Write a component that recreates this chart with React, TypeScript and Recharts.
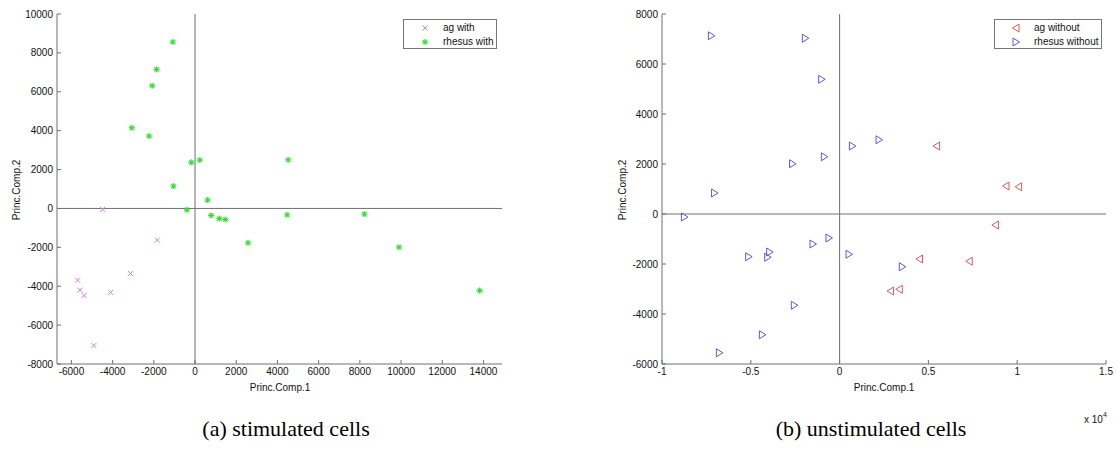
import { ScatterChart, Scatter, XAxis, YAxis, ReferenceLine } from "recharts";

// (a) stimulated cells
const agWithX = [-4490, -1830, -3130, -5700, -5590, -5380, -4100, -4910];
const agWithY = [-50, -1630, -3350, -3690, -4200, -4480, -4320, -7050];
const rhesusWithX = [
  -1080, -1870, -2080, -3070, -2230, -180, 230, -1050, 610, -400, 780, 1180, 1470, 2570, 4470,
  8220, 9900, 13810, 4520,
];
const rhesusWithY = [
  8560, 7150, 6310, 4150, 3720, 2370, 2490, 1150, 430, -70, -360, -520, -570, -1770, -330, -290,
  -1990, -4220, 2500,
];

// (b) unstimulated cells
const agWithoutX = [5460, 9370, 10080, 8770, 4500, 7300, 2870, 3360];
const agWithoutY = [2720, 1120, 1090, -440, -1800, -1890, -3080, -3010];
const rhesusWithoutX = [
  -7220, -1930, -1010, 720, -860, -2650, -7040, 2220, -8740, -1500, -600, 530, -5120, -3940, -4050,
  -2550, -4350, -6770, 3530,
];
const rhesusWithoutY = [
  7130, 7030, 5390, 2720, 2290, 2010, 840, 2970, -120, -1200, -960, -1610, -1710, -1520, -1730,
  -3650, -4830, -5550, -2110,
];

const leftXTicks = [-6000, -4000, -2000, 0, 2000, 4000, 6000, 8000, 10000, 12000, 14000];
const leftYTicks = [-8000, -6000, -4000, -2000, 0, 2000, 4000, 6000, 8000, 10000];
const rightXTicks = [-10000, -5000, 0, 5000, 10000, 15000];
const rightYTicks = [-6000, -4000, -2000, 0, 2000, 4000, 6000, 8000];

const pts = (xs: number[], ys: number[]) => xs.map((x, i) => ({ x, y: ys[i] }));

const AXIS = "#707070";
const PINK = "#d77ad9";
const GREEN = "#2fe02f";
const RED = "#dc5a5a";
const BLUE = "#5a5ad2";
const FONT = "'Liberation Sans', Arial, sans-serif";

function Cross({ cx, cy }: any) {
  const r = 2.5;
  return (
    <g stroke={PINK} strokeWidth={1}>
      <line x1={cx - r} y1={cy - r} x2={cx + r} y2={cy + r} />
      <line x1={cx - r} y1={cy + r} x2={cx + r} y2={cy - r} />
    </g>
  );
}

function Star({ cx, cy }: any) {
  const r = 3;
  const d = 2.2;
  return (
    <g stroke={GREEN} strokeWidth={1.1}>
      <line x1={cx - r} y1={cy} x2={cx + r} y2={cy} />
      <line x1={cx} y1={cy - r} x2={cx} y2={cy + r} />
      <line x1={cx - d} y1={cy - d} x2={cx + d} y2={cy + d} />
      <line x1={cx - d} y1={cy + d} x2={cx + d} y2={cy - d} />
    </g>
  );
}

function TriLeft({ cx, cy }: any) {
  return (
    <path
      d={`M${cx - 3.5},${cy} L${cx + 3},${cy - 4} L${cx + 3},${cy + 4} Z`}
      fill="none"
      stroke={RED}
      strokeWidth={1}
    />
  );
}

function TriRight({ cx, cy }: any) {
  return (
    <path
      d={`M${cx + 3.5},${cy} L${cx - 3},${cy - 4} L${cx - 3},${cy + 4} Z`}
      fill="none"
      stroke={BLUE}
      strokeWidth={1}
    />
  );
}

function YTick({ x, y, payload }: any) {
  return (
    <g>
      <text x={x} y={y} dy="0.355em" textAnchor="end" fontSize={10} fontFamily={FONT} fill="#111">
        {payload.value}
      </text>
      <line x1={x + 4} x2={x + 8} y1={y} y2={y} stroke={AXIS} />
    </g>
  );
}

function XTick({ x, y, payload, fmt }: any) {
  return (
    <g>
      <text x={x} y={y} dy="0.71em" textAnchor="middle" fontSize={10} fontFamily={FONT} fill="#111">
        {fmt ? fmt(payload.value) : payload.value}
      </text>
      <line x1={x} x2={x} y1={y - 4} y2={y - 8} stroke={AXIS} />
    </g>
  );
}

function LegendBox({ items, width, left }: { items: { label: string; Mark: any }[]; width: number; left: number }) {
  return (
    <div
      style={{
        position: "absolute",
        left,
        top: 19,
        width,
        height: 30,
        boxSizing: "border-box",
        border: "1px solid #777",
        background: "#fff",
        fontFamily: FONT,
        fontSize: 10,
        color: "#111",
      }}
    >
      {items.map((it, i) => (
        <div key={it.label} style={{ position: "absolute", left: 0, top: 1 + i * 14, height: 14, width }}>
          <svg width={30} height={14} style={{ position: "absolute", left: 6, top: 0 }}>
            <it.Mark cx={15} cy={7} />
          </svg>
          <span style={{ position: "absolute", left: 39, top: 0, lineHeight: "14px", whiteSpace: "nowrap" }}>
            {it.label}
          </span>
        </div>
      ))}
    </div>
  );
}

const txt = (extra: any) => ({
  position: "absolute" as const,
  fontFamily: FONT,
  fontSize: 10,
  color: "#111",
  whiteSpace: "nowrap" as const,
  ...extra,
});

const caption = (left: number) => ({
  position: "absolute" as const,
  left,
  top: 417,
  transform: "translateX(-50%)",
  fontFamily: "'Liberation Serif', 'Times New Roman', serif",
  fontSize: 22,
  lineHeight: "24px",
  whiteSpace: "nowrap" as const,
});

export default function App() {
  return (
    <div style={{ position: "absolute", left: 0, top: 0, width: 1117, height: 451, background: "#fff" }}>
      <div style={{ position: "absolute", left: 0, top: 0 }}>
        <ScatterChart width={520} height={400} margin={{ top: 14, right: 18, bottom: 6, left: 7 }}>
          <XAxis
            type="number"
            dataKey="x"
            domain={[-6700, 14900]}
            ticks={leftXTicks}
            interval={0}
            allowDataOverflow
            height={30}
            stroke={AXIS}
            tickLine={false}
            tickSize={0}
            tickMargin={4}
            tick={<XTick />}
          />
          <YAxis
            type="number"
            dataKey="y"
            domain={[-8000, 10000]}
            ticks={leftYTicks}
            interval={0}
            allowDataOverflow
            width={50}
            stroke={AXIS}
            tickLine={false}
            tickSize={0}
            tickMargin={4}
            tick={<YTick />}
          />
          <ReferenceLine x={0} stroke={AXIS} />
          <ReferenceLine y={0} stroke={AXIS} />
          <Scatter name="ag with" data={pts(agWithX, agWithY)} shape={Cross} isAnimationActive={false} />
          <Scatter name="rhesus with" data={pts(rhesusWithX, rhesusWithY)} shape={Star} isAnimationActive={false} />
        </ScatterChart>
        <LegendBox
          left={403}
          width={94}
          items={[
            { label: "ag with", Mark: Cross },
            { label: "rhesus with", Mark: Star },
          ]}
        />
        <div style={txt({ left: 280, top: 382, transform: "translateX(-50%)" })}>Princ.Comp.1</div>
        <div style={txt({ left: 16, top: 190, transform: "translate(-50%, -50%) rotate(-90deg)" })}>Princ.Comp.2</div>
      </div>

      <div style={{ position: "absolute", left: 600, top: 0 }}>
        <ScatterChart width={517} height={400} margin={{ top: 14, right: 11, bottom: 6, left: 12 }}>
          <XAxis
            type="number"
            dataKey="x"
            domain={[-10000, 15000]}
            ticks={rightXTicks}
            interval={0}
            allowDataOverflow
            height={30}
            stroke={AXIS}
            tickLine={false}
            tickSize={0}
            tickMargin={4}
            tick={<XTick fmt={(v: number) => String(v / 10000)} />}
          />
          <YAxis
            type="number"
            dataKey="y"
            domain={[-6000, 8000]}
            ticks={rightYTicks}
            interval={0}
            allowDataOverflow
            width={50}
            stroke={AXIS}
            tickLine={false}
            tickSize={0}
            tickMargin={4}
            tick={<YTick />}
          />
          <ReferenceLine x={0} stroke={AXIS} />
          <ReferenceLine y={0} stroke={AXIS} />
          <Scatter name="ag without" data={pts(agWithoutX, agWithoutY)} shape={TriLeft} isAnimationActive={false} />
          <Scatter
            name="rhesus without"
            data={pts(rhesusWithoutX, rhesusWithoutY)}
            shape={TriRight}
            isAnimationActive={false}
          />
        </ScatterChart>
        <LegendBox
          left={394}
          width={108}
          items={[
            { label: "ag without", Mark: TriLeft },
            { label: "rhesus without", Mark: TriRight },
          ]}
        />
        <div style={txt({ left: 284, top: 382, transform: "translateX(-50%)" })}>Princ.Comp.1</div>
        <div style={txt({ left: 22, top: 190, transform: "translate(-50%, -50%) rotate(-90deg)" })}>Princ.Comp.2</div>
        <div style={txt({ left: 484, top: 414 })}>
          x 10<sup style={{ fontSize: 7, verticalAlign: "top", position: "relative", top: -3 }}>4</sup>
        </div>
      </div>

      <div style={caption(286)}>(a) stimulated cells</div>
      <div style={caption(871)}>(b) unstimulated cells</div>
    </div>
  );
}
